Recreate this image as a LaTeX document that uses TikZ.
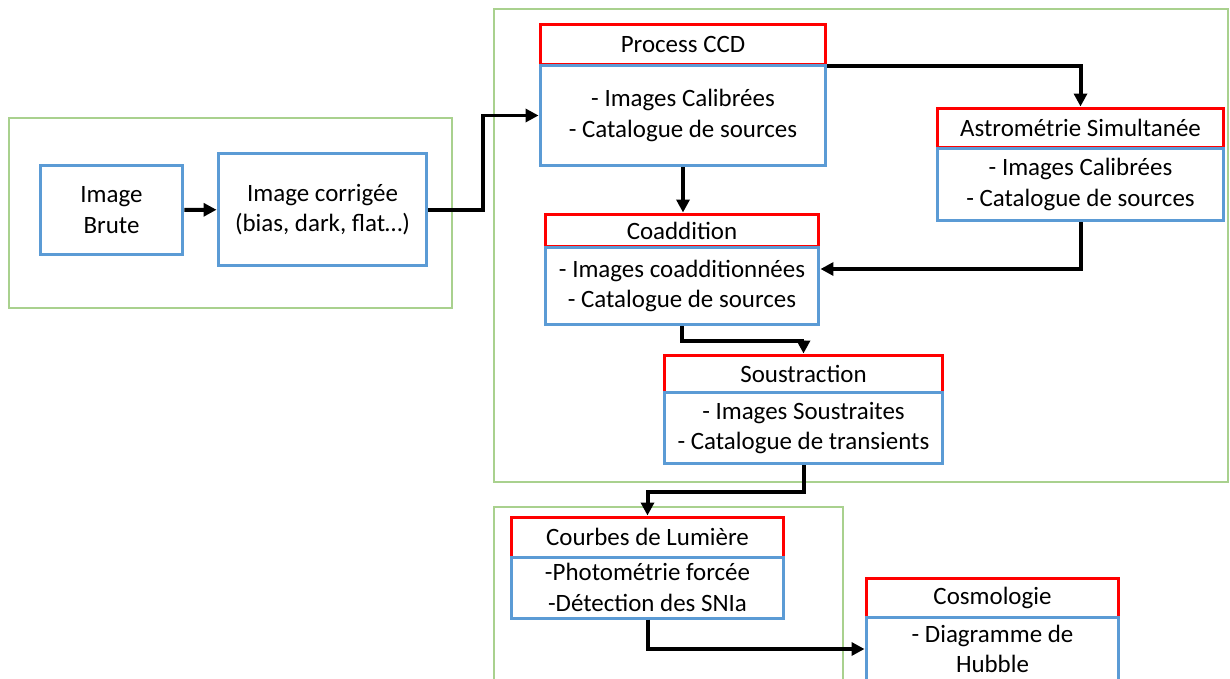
\documentclass[tikz,border=0pt]{standalone}
\usepackage{fontspec}
\setmainfont{Carlito}
\usetikzlibrary{arrows.meta}

\definecolor{boxblue}{RGB}{91,155,213}
\definecolor{boxgreen}{RGB}{169,209,142}
\definecolor{boxred}{RGB}{255,0,0}

\begin{document}
\begin{tikzpicture}[x=0.02cm, y=-0.02cm,
	every node/.style={font=\fontsize{14.2}{17.4}\selectfont, align=center, inner sep=0pt},
	>={Triangle[length=2.6mm, width=2.6mm]},
	group/.style={draw=boxgreen, line width=0.05cm},
	head/.style={draw=boxred, line width=0.06cm, fill=white},
	body/.style={draw=boxblue, line width=0.06cm, fill=white},
	link/.style={->, draw=black, line width=0.08cm}]
	\useasboundingbox (0,0) rectangle (1230,679);
	\clip (0,0) rectangle (1230,679);
	\draw[group] (9,118) rectangle (452,308);
	\draw[group] (494,9) rectangle (1228,482);
	\draw[group] (494,507) rectangle (843,681);
	\node[body, minimum width=2.86cm, minimum height=1.8cm] (brute) at (111.5,210) {Image\\Brute};
	\node[body, minimum width=4.18cm, minimum height=2.26cm] (corr) at (322.5,209.5) {Image corrigée\\(bias, dark, flat…)};
	\node[head, minimum width=5.72cm, minimum height=0.82cm] (ccdhead) at (683,44.5) {Process CCD};
	\node[body, minimum width=5.72cm, minimum height=2.02cm] (ccdbody) at (683,115.5) {- Images Calibrées\\- Catalogue de sources};
	\node[head, minimum width=5.74cm, minimum height=0.8cm] (astrohead) at (1080.5,128) {Astrométrie Simultanée};
	\node[body, minimum width=5.74cm, minimum height=1.46cm] (astrobody) at (1080.5,184.5) {- Images Calibrées\\- Catalogue de sources};
	\node[head, minimum width=5.48cm, minimum height=0.66cm] (coaddhead) at (682,230.5) {Coaddition};
	\node[body, minimum width=5.48cm, minimum height=1.56cm] (coaddbody) at (682,286) {- Images coadditionnées\\- Catalogue de sources};
	\node[head, minimum width=5.58cm, minimum height=0.74cm] (soushead) at (803.5,373.5) {Soustraction};
	\node[body, minimum width=5.58cm, minimum height=1.44cm] (sousbody) at (803.5,428) {- Images Soustraites\\- Catalogue de transients};
	\node[head, minimum width=5.46cm, minimum height=0.8cm] (courbhead) at (647.5,537) {Courbes de Lumière};
	\node[body, minimum width=5.46cm, minimum height=1.22cm] (courbbody) at (647.5,587.5) {-Photométrie forcée\\-Détection des SNIa};
	\node[head, minimum width=5.06cm, minimum height=0.78cm] (cosmohead) at (992.5,597.5) {Cosmologie};
	\node[body, minimum width=5.06cm, minimum height=1.28cm] (cosmobody) at (992.5,649) {- Diagramme de\\Hubble};
	\draw[link] (brute) -- (corr);
	\draw[link] (corr.east) -- ++(55,0) |- (ccdbody.west);
	\draw[link] (ccdhead.south east) -| (astrohead.north);
	\draw[link] (ccdbody.south) -- (ccdbody.south |- coaddhead.north);
	\draw[link] (astrobody.south) |- ([yshift=0.34cm]coaddbody.east);
	\draw[link] (coaddbody.south) -- ++(0,15) -| (soushead.north);
	\draw[link] (sousbody.south) -- ++(0,27) -| (courbhead.north);
	\draw[link] (courbbody.south) |- (cosmobody.west);
\end{tikzpicture}
\end{document}
